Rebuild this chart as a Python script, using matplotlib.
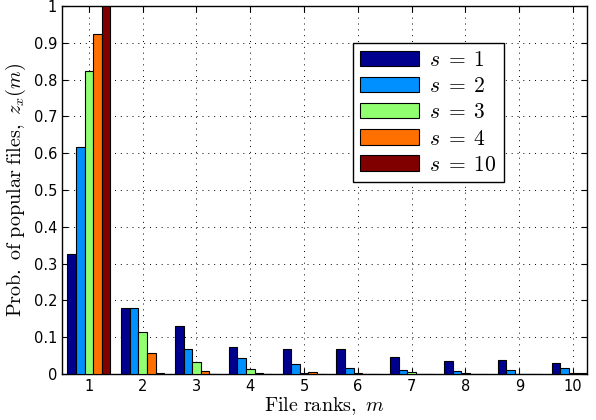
import matplotlib
matplotlib.use("Agg")
import matplotlib.pyplot as plt
import numpy as np

plt.rcParams['mathtext.fontset'] = 'cm'

ranks = [1, 2, 3, 4, 5, 6, 7, 8, 9, 10]
labels = ["$s\\;=\\;1$", "$s\\;=\\;2$", "$s\\;=\\;3$", "$s\\;=\\;4$", "$s\\;=\\;10$"]
s1 = [0.326, 0.179, 0.131, 0.073, 0.068, 0.068, 0.047, 0.035, 0.039, 0.030]
s2 = [0.617, 0.180, 0.068, 0.043, 0.026, 0.016, 0.010, 0.009, 0.010, 0.015]
s3 = [0.823, 0.114, 0.032, 0.014, 0.003, 0.002, 0.005, 0.003, 0.001, 0.002]
s4 = [0.925, 0.058, 0.008, 0.002, 0.005, 0.001, 0.001, 0.001, 0.000, 0.002]
s10 = [1.000, 0.002, 0.000, 0.000, 0.000, 0.000, 0.000, 0.000, 0.000, 0.003]
series = [s1, s2, s3, s4, s10]
colors = ["#00008F", "#0090FF", "#90FF70", "#FF7000", "#800000"]

fig = plt.figure(figsize=(5.96, 4.2), dpi=100)
ax = fig.add_axes([0.104, 0.1095, 0.881, 0.876])

x = np.array(ranks, dtype=float)
w = 0.16
for i, (vals, c, lab) in enumerate(zip(series, colors, labels)):
    ax.bar(x + (i - 2) * w, vals, width=w, color=c, edgecolor='black',
           linewidth=0.8, label=lab, zorder=3)

ax.set_xlim(0.5, 10.26)
ax.set_ylim(0, 1)
ax.set_xticks(ranks)
ax.set_yticks(np.arange(0, 1.01, 0.1))
ax.set_yticklabels(["0", "0.1", "0.2", "0.3", "0.4", "0.5", "0.6", "0.7", "0.8", "0.9", "1"])
ax.grid(True, linestyle=(0, (1, 5)), color='black', linewidth=0.7, zorder=0)
ax.tick_params(direction='in', top=True, right=True, labelsize=10.5, length=4)
for sp in ax.spines.values():
    sp.set_linewidth(1.0)

ax.set_xlabel(r"$\mathrm{File\ ranks,}\ m$", fontsize=14.5, labelpad=1)
ax.set_ylabel(r"$\mathrm{Prob.\ of\ popular\ files,}\ z_x(m)$", fontsize=14.5, labelpad=4)

leg = ax.legend(loc='upper left', bbox_to_anchor=(0.554, 0.9), fontsize=15.5,
                frameon=True, fancybox=False, edgecolor='black', framealpha=1,
                handlelength=2.7, handleheight=0.7, borderpad=0.35, labelspacing=0.28,
                handletextpad=0.5, borderaxespad=0)
leg.get_frame().set_linewidth(1.0)

fig.savefig("out.png", dpi=100)
